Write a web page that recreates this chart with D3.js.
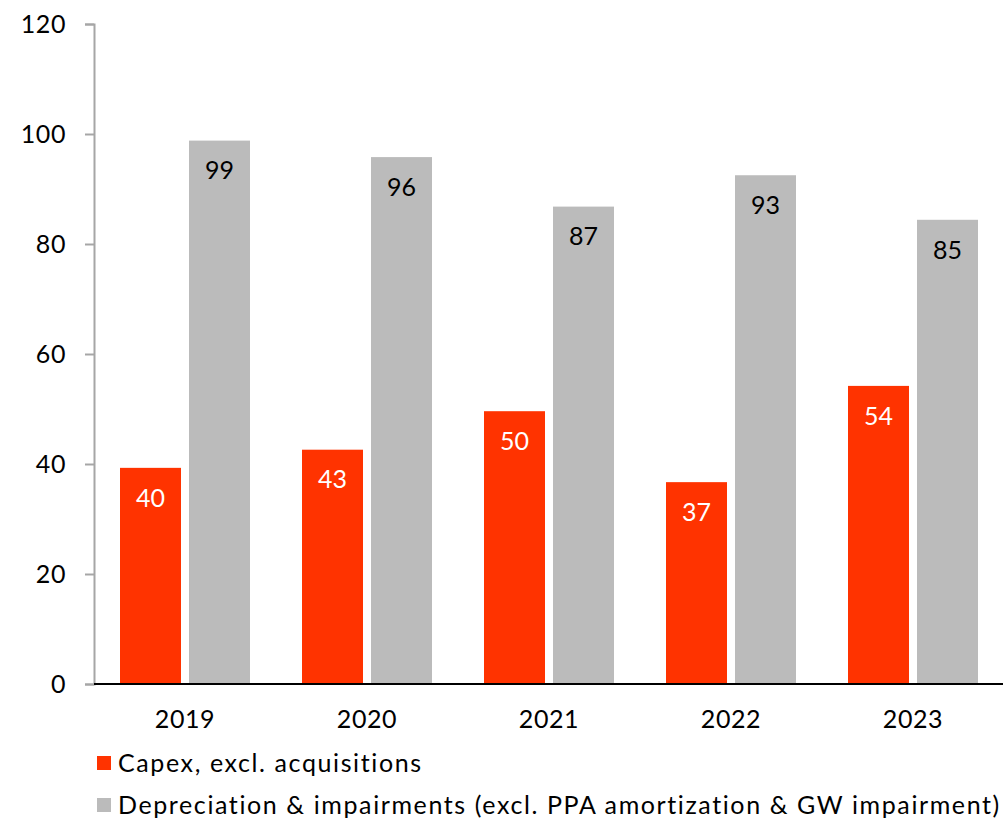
<!DOCTYPE html>
<html><head><meta charset="utf-8">
<script src="https://cdn.jsdelivr.net/npm/d3@7"></script>
<style>body{margin:0;background:#fff}svg{display:block}text{font-family:Lato,"Open Sans",sans-serif}</style>
</head><body><svg id="c" width="1003" height="820"></svg>
<script>
const categories = ["2019","2020","2021","2022","2023"];
const seriesNames = ["Capex, excl. acquisitions","Depreciation & impairments (excl. PPA amortization & GW impairment)"];
const capex = [39.3, 42.6, 49.6, 36.7, 54.2];
const depreciation = [98.8, 95.8, 86.8, 92.5, 84.4];
const capexLabels = ["40","43","50","37","54"];
const depLabels = ["99","96","87","93","85"];
const yTicks = [0,20,40,60,80,100,120];
const colors = ["#FF3300","#BBBBBB"];

const svg = d3.select("#c");
const x = d3.scaleBand().domain(categories).range([94,1004]).paddingInner(52/182).paddingOuter(26/182);
const sub = d3.scaleBand().domain([0,1]).range([0,x.bandwidth()]).paddingInner(8/69);
const y = d3.scaleLinear().domain([0,120]).range([684,24]);

const ya = svg.append("g").attr("transform","translate(94,0)")
  .call(d3.axisLeft(y).tickValues(yTicks).tickSize(9).tickPadding(19));
ya.select(".domain").attr("stroke","#A6A6A6").attr("stroke-width",2);
ya.selectAll(".tick line").attr("stroke","#A6A6A6").attr("stroke-width",2);
ya.selectAll(".tick text").attr("fill","#000").style("font-size","25px").style("font-family","Lato").style("letter-spacing","0.6px");

const series = [capex, depreciation];
const labels = [capexLabels, depLabels];
series.forEach((vals,si)=>{
  svg.append("g").selectAll("rect").data(vals).join("rect")
    .attr("x",(d,i)=>x(categories[i])+sub(si))
    .attr("width",sub.bandwidth())
    .attr("y",d=>y(d)).attr("height",d=>y(0)-y(d))
    .attr("fill",colors[si]);
  svg.append("g").selectAll("text").data(vals).join("text")
    .attr("x",(d,i)=>x(categories[i])+sub(si)+sub.bandwidth()/2)
    .attr("y",d=>y(d)+30).attr("dy","0.35em")
    .attr("text-anchor","middle")
    .attr("fill",si===0?"#fff":"#000")
    .style("font-size","25px")
    .text((d,i)=>labels[si][i]);
});

const xa = svg.append("g").attr("transform","translate(0,684)")
  .call(d3.axisBottom(x).tickSize(0).tickPadding(26));
xa.select(".domain").attr("stroke","#000").attr("stroke-width",2).attr("d","M94,0H1003");
xa.selectAll(".tick text").attr("fill","#000").style("font-size","25px").style("font-family","Lato").style("letter-spacing","0.6px");

const leg = svg.append("g");
seriesNames.forEach((n,i)=>{
  const yy = 763 + i*42;
  leg.append("rect").attr("x",97).attr("y",yy-7).attr("width",14).attr("height",14).attr("fill",colors[i]);
  leg.append("text").attr("x",118).attr("y",yy).attr("dy","0.35em").style("font-size","25px").style("letter-spacing","1.6px").attr("fill","#000").text(n);
});
</script></body></html>
